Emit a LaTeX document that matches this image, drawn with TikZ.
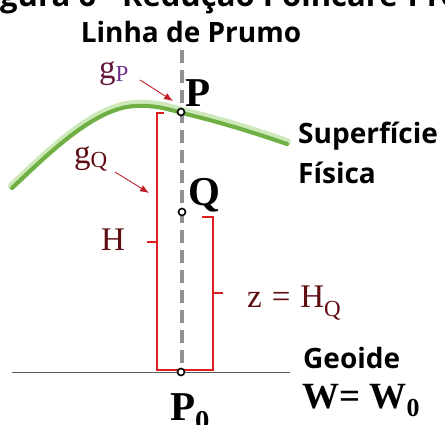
\documentclass[tikz,border=0pt]{standalone}
\usepackage{fontspec}
\setmainfont{Liberation Serif}
\setsansfont{Open Sans}
\usetikzlibrary{arrows.meta}
\definecolor{surf}{RGB}{112,175,68}
\definecolor{surfglow}{RGB}{205,232,185}
\definecolor{brk}{RGB}{222,30,30}
\definecolor{darkred}{RGB}{95,12,18}
\definecolor{purp}{RGB}{112,48,140}
\definecolor{gplum}{RGB}{100,20,60}
\definecolor{plumb}{RGB}{145,145,145}
\definecolor{arr}{RGB}{190,30,40}
\begin{document}
\begin{tikzpicture}[x=1pt,y=-1pt,
  sanslab/.style={font=\sffamily\bfseries\fontsize{28}{28}\selectfont, inner sep=0pt},
  ptlab/.style={font=\bfseries\fontsize{41}{41}\selectfont, inner sep=0pt},
  mlab/.style={font=\fontsize{33}{33}\selectfont, text=darkred, inner sep=0pt},
  pt/.style={circle, draw=black, fill=white, line width=1.6pt, minimum size=7pt, inner sep=0pt},
  bracket/.style={brk, line width=1.3pt},
  garrow/.style={arr, line width=0.9pt, -{Latex[length=9pt,width=7pt]}}
]
\useasboundingbox (0,0) rectangle (445,424);

% clipped caption at the very top
\node[anchor=base west, inner sep=0pt, font=\sffamily\bfseries\fontsize{31}{31}\selectfont] (cap) at (0,6) {\llap{Fi}gura 6 - Redução Poincaré-Prey};

\node[sanslab, anchor=base] (lp) at (191,42) {Linha de Prumo};

% surface
\draw[surfglow, line width=8pt, line cap=round, yshift=2pt]
  (12,188) .. controls (50,152) and (95,108) .. (135,106)
  .. controls (155,105) and (168,109) .. (182,113)
  .. controls (220,122) and (255,133) .. (287,144);
\draw[surf, line width=4pt, line cap=round]
  (12,188) .. controls (50,152) and (95,108) .. (135,106)
  .. controls (155,105) and (168,109) .. (182,113)
  .. controls (220,122) and (255,133) .. (287,144);

% geoid
\coordinate (gl) at (12,372);
\coordinate (gr) at (290,372);
\draw[black!65, line width=0.9pt] (gl) -- (gr);

% plumb line
\coordinate (pltop) at (182,50);
\coordinate (plbot) at (182,368);
\draw[plumb, line width=4pt, dash pattern=on 13pt off 7pt] (pltop) -- (plbot);

% brackets
\draw[bracket] (164,113) -- (157,113) -- (157,370) -- (213,370) -- (213,217) -- (202,217);
\draw[bracket] (157,242) -- (147,242);
\draw[bracket] (213,293) -- (223,293);

% points
\node[pt] (P) at (181,112) {};
\node[pt] (Q) at (182,212) {};
\node[pt] (P0) at (181,372) {};

\node[ptlab, anchor=base west] (Plab) at (185,106) {P};
\node[ptlab, anchor=base west] (Qlab) at (188,205) {Q};
\node[ptlab, anchor=base] (P0lab) at (190,420) {P\textsubscript{0}};

% labels
\node[mlab, anchor=base west] (H) at (101,250) {H};
\node[mlab, anchor=base west] (gQ) at (74,163) {g\raisebox{-0.15em}{\fontsize{23}{23}\selectfont Q}};
\node[mlab, anchor=base west, text=gplum] (gP) at (99,78) {g\raisebox{-0.1em}{\fontsize{23}{23}\selectfont\color{purp}P}};
\node[mlab, anchor=base west] (z) at (247,307) {z\hspace{0.3em}=\hspace{0.3em}H\raisebox{-0.3em}{\fontsize{23}{23}\selectfont Q}};

\coordinate (gPa) at (140,80);
\coordinate (gPb) at (173,101);
\draw[garrow] (gPa) -- (gPb);
\coordinate (gQa) at (115,172);
\coordinate (gQb) at (149,193);
\draw[garrow] (gQa) -- (gQb);

\node[sanslab, anchor=base west] (sup) at (298,143) {Superfície};
\node[sanslab, anchor=base west] (fis) at (298,183) {Física};
\node[sanslab, anchor=base west] (geo) at (303,368) {Geoide};
\node[anchor=base west, inner sep=0pt, font=\bfseries\fontsize{37}{37}\selectfont] (W) at (302,408) {W= W\textsubscript{0}};
\end{tikzpicture}
\end{document}
